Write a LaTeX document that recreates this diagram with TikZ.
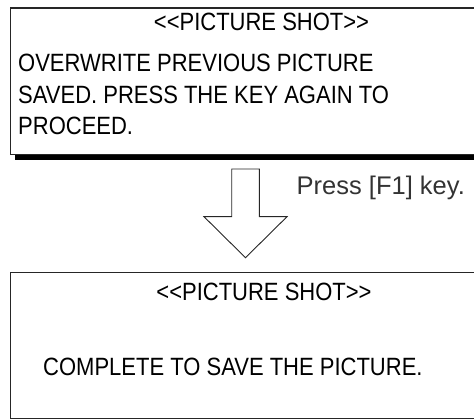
\documentclass[tikz,border=0pt]{standalone}
\usepackage{fontspec}
\setmainfont{Liberation Sans}
\newfontfamily\narrowfont{Liberation Sans}[FakeStretch=0.88]
\usetikzlibrary{positioning}

\begin{document}
\begin{tikzpicture}[
    x=1pt, y=-1pt,
    screen/.style={draw=black!85, line width=1.1pt, anchor=north west, minimum width=480pt, inner sep=0pt},
    msg/.style={font=\narrowfont\fontsize{25}{32}\selectfont, inner sep=0pt, anchor=base west},
    title/.style={msg, anchor=base},
    hint/.style={font=\fontsize{25.5}{28}\selectfont, text=black!80, inner sep=0pt, anchor=base west},
    bigarrow/.style={draw=black!85, line width=0.9pt, fill=white, line join=miter}
]
\useasboundingbox (0,0) rectangle (474,419);
% screen before the key
\fill (15,155) rectangle (490,160.5);
\node[screen, minimum height=146.5pt] (before) at (9.5,7.5) {};
\node[title] (title1) at (261.5,31) {<{}<PICTURE SHOT>{}>};
\node[msg] (line1) at (18,72) {OVERWRITE PREVIOUS PICTURE};
\node[msg] (line2) at (18,104) {SAVED. PRESS THE KEY AGAIN TO};
\node[msg] (line3) at (18,135) {PROCEED.};
% key press
\coordinate (arrowtop) at (245.5,169);
\draw[bigarrow] (arrowtop) ++(-13.8,0) -- ++(27.6,0) -- ++(0,47.7) -- ++(27.7,0)
    -- ++(-41.5,41) -- ++(-41.5,-41) -- ++(27.7,0) -- cycle;
\node[hint, right=51pt of arrowtop, anchor=base west, yshift=-26pt] (press) {Press [F1] key.};
% screen after the key
\node[screen, minimum height=146.5pt] (after) at (9.5,271.7) {};
\node[title] (title2) at (264,301) {<{}<PICTURE SHOT>{}>};
\node[msg] (done) at (43,376) {COMPLETE TO SAVE THE PICTURE.};
\end{tikzpicture}
\end{document}
